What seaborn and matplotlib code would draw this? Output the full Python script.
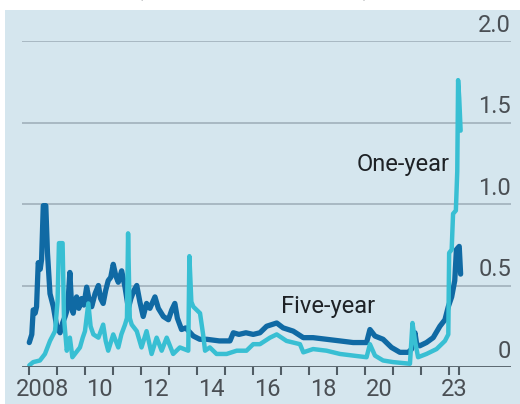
import matplotlib
matplotlib.use("Agg")
import matplotlib.pyplot as plt
from matplotlib import font_manager
from matplotlib.patches import Rectangle
import seaborn as sns
import pandas as pd

# US sovereign credit-default-swap spreads, percentage points
five_year_t = [2008.01, 2008.10, 2008.15, 2008.22, 2008.27, 2008.33, 2008.40, 2008.45,
               2008.51, 2008.60, 2008.66, 2008.75, 2008.87, 2008.99,
               2009.11, 2009.20, 2009.29, 2009.38, 2009.46, 2009.52, 2009.58, 2009.64,
               2009.70, 2009.78, 2009.88, 2009.96, 2010.06, 2010.14, 2010.24, 2010.36,
               2010.48, 2010.56, 2010.65, 2010.74, 2010.83, 2010.92, 2011.01, 2011.10,
               2011.19, 2011.31, 2011.43, 2011.55, 2011.64, 2011.75, 2011.85, 2011.96,
               2012.08, 2012.20, 2012.32, 2012.50, 2012.62, 2012.80, 2012.98, 2013.10,
               2013.21, 2013.30, 2013.45, 2013.60, 2013.87, 2014.10, 2014.35, 2014.80,
               2015.18, 2015.30, 2015.50, 2015.75, 2016.01,
               2016.25, 2016.49, 2016.85, 2017.08,
               2017.44, 2017.80, 2018.15, 2018.63, 2019.11, 2019.58, 2020.06, 2020.18,
               2020.36, 2020.65, 2020.95, 2021.25, 2021.55, 2021.67, 2021.79, 2021.85,
               2021.96, 2022.20, 2022.44, 2022.68, 2022.86, 2022.98, 2023.10, 2023.21,
               2023.27, 2023.37, 2023.42]
five_year_v = [0.15, 0.20, 0.35, 0.33, 0.37, 0.64, 0.60, 0.66,
               0.99, 0.99, 0.70, 0.45, 0.37, 0.25,
               0.21, 0.27, 0.31, 0.36, 0.58, 0.38, 0.33, 0.40,
               0.43, 0.36, 0.42, 0.38, 0.49, 0.42, 0.37, 0.45,
               0.50, 0.42, 0.39, 0.47, 0.53, 0.55, 0.63, 0.56,
               0.52, 0.59, 0.49, 0.36, 0.42, 0.47, 0.50, 0.40,
               0.31, 0.39, 0.36, 0.43, 0.36, 0.31, 0.29, 0.35,
               0.39, 0.30, 0.23, 0.24, 0.19, 0.17, 0.17, 0.16,
               0.16, 0.21, 0.20, 0.21, 0.20,
               0.21, 0.25, 0.27, 0.24,
               0.22, 0.18, 0.18, 0.17, 0.16, 0.15, 0.15, 0.23,
               0.19, 0.17, 0.12, 0.09, 0.09, 0.11, 0.21, 0.14,
               0.13, 0.15, 0.18, 0.25, 0.29, 0.37, 0.43, 0.53,
               0.72, 0.74, 0.57]

one_year_t = [2008.01, 2008.15, 2008.39, 2008.57, 2008.75, 2008.93, 2009.02, 2009.07,
              2009.20, 2009.25, 2009.35, 2009.46, 2009.55, 2009.64, 2009.82, 2009.92,
              2010.00, 2010.12, 2010.20, 2010.30, 2010.48, 2010.65, 2010.74, 2010.83,
              2011.01, 2011.19, 2011.30, 2011.43, 2011.50, 2011.54, 2011.60, 2011.67,
              2011.85, 2012.02, 2012.20, 2012.38, 2012.56, 2012.74, 2012.92, 2013.15,
              2013.39, 2013.69, 2013.73, 2013.80, 2013.87, 2014.11, 2014.22, 2014.29,
              2014.46, 2014.70, 2015.06, 2015.42, 2015.77, 2016.01,
              2016.25, 2016.61, 2016.85, 2017.20, 2017.68,
              2017.80, 2018.15, 2018.63, 2019.11, 2019.58, 2020.06, 2020.18, 2020.36,
              2020.65, 2021.01, 2021.61, 2021.70, 2021.79, 2021.90, 2022.20, 2022.56,
              2022.86, 2022.98, 2023.01, 2023.10, 2023.15, 2023.25, 2023.30, 2023.33,
              2023.37, 2023.42]
one_year_v = [0.01, 0.03, 0.04, 0.08, 0.16, 0.22, 0.40, 0.76,
              0.76, 0.30, 0.10, 0.18, 0.06, 0.08, 0.12, 0.18,
              0.22, 0.39, 0.25, 0.20, 0.18, 0.26, 0.16, 0.10,
              0.20, 0.12, 0.20, 0.26, 0.30, 0.82, 0.30, 0.26,
              0.22, 0.12, 0.22, 0.08, 0.18, 0.10, 0.18, 0.08,
              0.12, 0.10, 0.68, 0.40, 0.37, 0.33, 0.20, 0.10,
              0.12, 0.08, 0.08, 0.10, 0.10, 0.14,
              0.14, 0.18, 0.20, 0.16, 0.14,
              0.09, 0.11, 0.10, 0.08, 0.07, 0.06, 0.14, 0.07,
              0.04, 0.03, 0.02, 0.27, 0.16, 0.06, 0.08, 0.11,
              0.16, 0.20, 0.70, 0.72, 0.94, 0.96, 1.20, 1.76,
              1.65, 1.45]

y_ticks = [0, 0.5, 1.0, 1.5, 2.0]
y_tick_labels = ["0", "0.5", "1.0", "1.5", "2.0"]
year_ticks = list(range(2008, 2024)) + [2023.38]
x_label_pos = [2008.5, 2010.5, 2012.5, 2014.5, 2016.5, 2018.5, 2020.5, 2023.19]
x_labels = ["2008", "10", "12", "14", "16", "18", "20", "23"]

sns.set_theme(style="white")
installed = {f.name for f in font_manager.fontManager.ttflist}
family = "Liberation Sans Narrow" if "Liberation Sans Narrow" in installed else "Roboto"
plt.rcParams["font.family"] = [family, "DejaVu Sans"]

BG = "#d5e6ee"
DARK = "#106aa4"
LIGHT = "#38bfd3"
GRID = "#a5b5bf"
AXIS = "#505c64"
TEXT = "#4a4f54"

fig = plt.figure(figsize=(5.2, 4.04), dpi=100)
fig.patches.append(Rectangle((5 / 520, 0), 1, 1 - 10 / 404, transform=fig.transFigure,
                             facecolor=BG, edgecolor="none", zorder=-5))
fig.text(0.5 * (140 + 367) / 520, 1 + 4 / 404, "(percentage points, daily)",
         ha="center", va="baseline", fontsize=15, color=TEXT)

ax = fig.add_axes([22 / 520, 37 / 404, 489 / 520, 326 / 404])
ax.set_facecolor("none")
ax.set_zorder(2)

df = pd.concat([
    pd.DataFrame({"year": five_year_t, "spread": five_year_v, "maturity": "Five-year"}),
    pd.DataFrame({"year": one_year_t, "spread": one_year_v, "maturity": "One-year"}),
])
sns.lineplot(data=df[df.maturity == "Five-year"], x="year", y="spread", color=DARK,
             linewidth=3.8, estimator=None, ax=ax, zorder=3)
sns.lineplot(data=df[df.maturity == "One-year"], x="year", y="spread", color=LIGHT,
             linewidth=3.2, estimator=None, ax=ax, zorder=4)

ax.set_xlim(2007.75, 2025.22)
ax.set_ylim(0, 2.0)
for s in ax.spines.values():
    s.set_visible(False)

# horizontal grid lines with labels sitting above them on the right
for v, lab in zip(y_ticks, y_tick_labels):
    if v == 0:
        ax.axhline(v, color=AXIS, linewidth=2.0, zorder=5)
    else:
        ax.axhline(v, color=GRID, linewidth=1.3, zorder=1)
    ax.annotate(lab, xy=(1.0, v), xycoords=ax.get_yaxis_transform(),
                xytext=(0, 3), textcoords="offset points",
                ha="right", va="bottom", fontsize=17, color=TEXT)
ax.set_yticks([])

ax.set_xticks(year_ticks)
ax.set_xticklabels([])
ax.tick_params(axis="x", which="major", direction="out", length=6, width=1.5,
               color=AXIS, bottom=True)
ax.set_xticks(x_label_pos, minor=True)
ax.set_xticklabels(x_labels, minor=True)
ax.tick_params(axis="x", which="minor", length=0, pad=8, labelsize=17, labelcolor=TEXT)
ax.set_xlabel("")
ax.set_ylabel("")

ax.text(2021.36, 1.24, "One-year", ha="center", va="center", fontsize=17, color="#1e2226")
ax.text(2018.68, 0.37, "Five-year", ha="center", va="center", fontsize=17, color="#1e2226")

fig.savefig("out.png", dpi=100)
